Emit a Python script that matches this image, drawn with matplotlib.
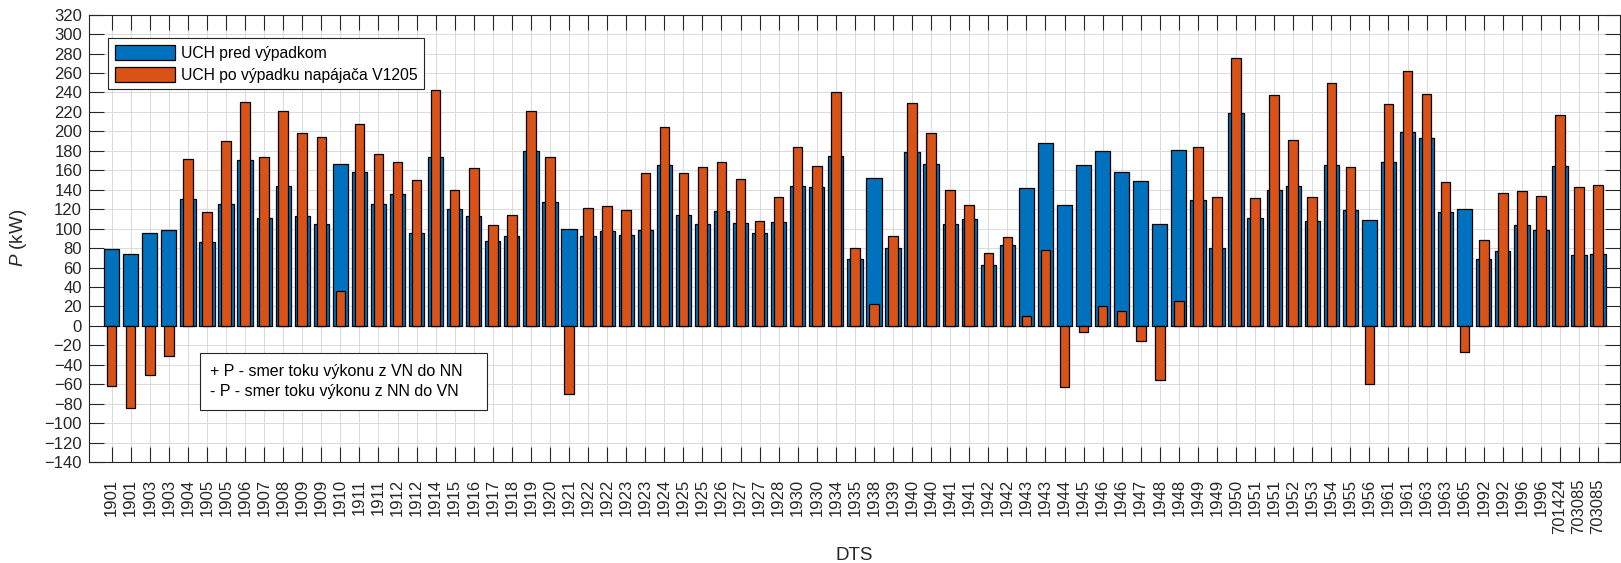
import matplotlib
matplotlib.use('Agg')
import matplotlib.pyplot as plt
from matplotlib.patches import Rectangle
import numpy as np

plt.rcParams['font.family'] = ['Liberation Sans', 'DejaVu Sans']
plt.rcParams['mathtext.fontset'] = 'custom'
plt.rcParams['mathtext.it'] = 'Liberation Sans:italic'
plt.rcParams['mathtext.rm'] = 'Liberation Sans'

# DTS stations
dts = ['1901', '1901', '1903', '1903', '1904', '1905', '1905', '1906', '1907', '1908',
       '1909', '1909', '1910', '1911', '1911', '1912', '1912', '1914', '1915', '1916',
       '1917', '1918', '1919', '1920', '1921', '1922', '1922', '1923', '1923', '1924',
       '1925', '1925', '1926', '1927', '1927', '1928', '1930', '1930', '1934', '1935',
       '1938', '1939', '1940', '1940', '1941', '1941', '1942', '1942', '1943', '1943',
       '1944', '1945', '1946', '1946', '1947', '1948', '1948', '1949', '1949', '1950',
       '1951', '1951', '1952', '1953', '1954', '1955', '1956', '1961', '1961', '1963',
       '1963', '1965', '1992', '1992', '1996', '1996', '701424', '703085', '703085']

# active power before the outage (kW)
p_pred = [79, 74, 96, 99, 130, 86, 125, 171, 111, 144, 113, 105, 166, 158, 125, 136, 95, 174, 120, 113,
          87, 92, 180, 127, 100, 92, 98, 93, 99, 165, 114, 105, 118, 106, 96, 107, 144, 143, 175, 69,
          152, 80, 179, 166, 105, 110, 63, 83, 142, 188, 124, 165, 180, 158, 149, 105, 181, 129, 80, 219,
          111, 140, 144, 108, 165, 119, 109, 168, 199, 193, 117, 120, 69, 77, 104, 99, 164, 73, 74]

# active power after the V1205 feeder outage (kW)
p_po = [-62, -84, -51, -31, 172, 117, 190, 230, 174, 221, 198, 194, 36, 208, 177, 168, 150, 243, 140, 162,
        104, 114, 221, 174, -70, 121, 123, 119, 157, 204, 157, 163, 169, 151, 108, 133, 184, 164, 241, 80,
        22, 92, 229, 198, 140, 124, 75, 91, 10, 78, -63, -6, 20, 15, -16, -56, 26, 184, 133, 275,
        132, 237, 191, 133, 250, 163, -60, 228, 262, 238, 148, -27, 88, 137, 139, 134, 217, 143, 145]

blue = '#0072BD'
orange = '#D95319'
axcol = '#262626'

x = np.arange(len(dts))

fig = plt.figure(figsize=(16.21, 5.63), dpi=100)
ax = fig.add_axes([0.0549, 0.1794, 0.9445, 0.7945])
ax.set_axisbelow(True)

ax.bar(x, p_pred, width=0.8, color=blue, edgecolor='black', linewidth=0.9,
       label='UCH pred výpadkom')
ax.bar(x, p_po, width=0.5, color=orange, edgecolor='black', linewidth=0.9,
       label='UCH po výpadku napájača V1205')

ax.set_xlim(-1.19, len(dts) - 1 + 1.15)
ax.set_ylim(-140, 320)
ax.set_yticks(np.arange(-140, 321, 20))
ax.set_xticks(x)
ax.set_xticklabels(dts, rotation=90)

ax.grid(True, color='#dadada', linewidth=0.7)
ax.tick_params(direction='in', length=11, width=0.8, color=axcol, labelcolor=axcol,
               labelsize=12, top=True, right=True)
ax.tick_params(axis='x', pad=12)
ax.tick_params(axis='y', pad=5)
for s in ax.spines.values():
    s.set_color(axcol)
    s.set_linewidth(0.8)

ax.set_xlabel('DTS', fontsize=13.5, color=axcol)
ax.xaxis.set_label_coords(0.5, -0.19)
ax.set_ylabel(r'$\mathit{P}$ (kW)', fontsize=13.5, color=axcol)
ax.yaxis.set_label_coords(-0.039, 0.5)

leg = ax.legend(loc='upper left', bbox_to_anchor=(0.0124, 0.947), borderaxespad=0,
                fancybox=False, edgecolor=axcol, fontsize=11.3, handlelength=3.87,
                handleheight=1.1, labelspacing=0.38, borderpad=0.42, handletextpad=0.34,
                framealpha=1)
leg.get_frame().set_linewidth(0.8)

# sign convention note box
ax.add_patch(Rectangle((4.64, -86.6), 15.03, 58.4, facecolor='white', edgecolor=axcol,
                       linewidth=0.8, zorder=5))
ax.text(5.16, -47, '+ P - smer toku výkonu z VN do NN', fontsize=11.5, va='center',
        ha='left', color='black', zorder=6)
ax.text(5.16, -67, '- P - smer toku výkonu z NN do VN', fontsize=11.5, va='center',
        ha='left', color='black', zorder=6)

fig.savefig('out.png', dpi=100)
